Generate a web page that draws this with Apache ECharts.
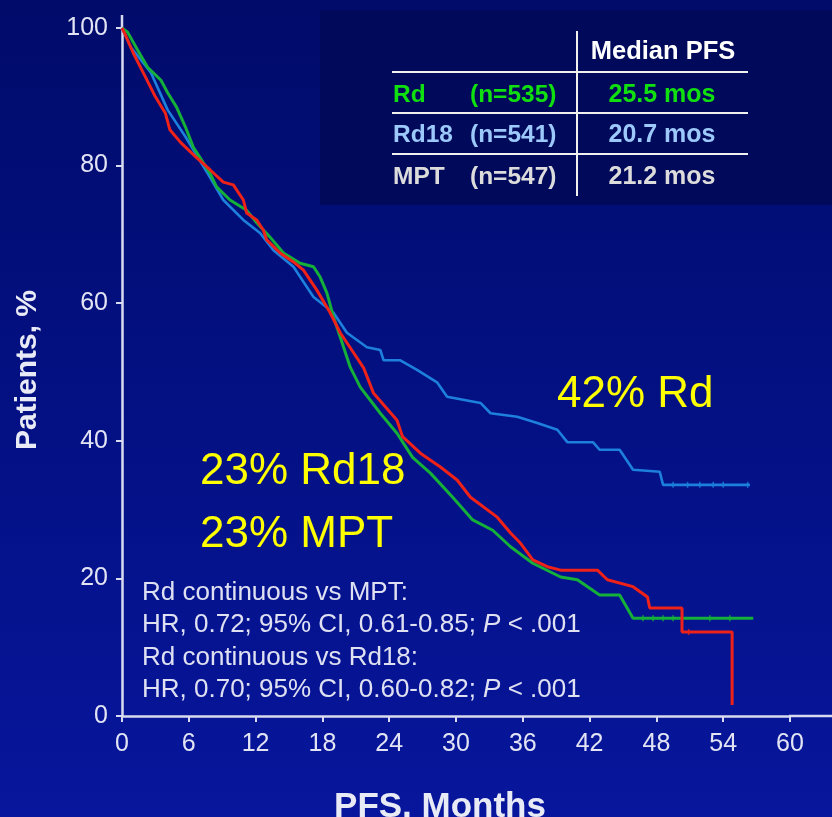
<!DOCTYPE html>
<html>
<head>
<meta charset="utf-8">
<script src="https://cdn.jsdelivr.net/npm/echarts@6/dist/echarts.min.js"></script>
<style>
html,body{margin:0;padding:0;background:#000c70;}
#chart{width:832px;height:817px;}
</style>
</head>
<body>
<div id="chart"></div>
<script>
// ---- data ----
var xTicks = [0, 6, 12, 18, 24, 30, 36, 42, 48, 54, 60];
var yTicks = [0, 20, 40, 60, 80, 100];

// Rd continuous (upper blue curve)
var rdContinuous = [[0,100],[0.8,97.2],[2.6,93.5],[4.1,88.1],[5.7,84.2],[7.9,78.3],[9.1,75.0],[10.9,72.1],[12.4,70.2],[13.6,67.7],[15.4,65.3],[17.2,60.9],[19.0,58.6],[20.2,55.7],[22.0,53.6],[23.2,53.2],[23.5,51.7],[25.0,51.7],[26.5,50.3],[28.3,48.5],[29.2,46.4],[32.2,45.5],[33.1,44.0],[35.5,43.5],[37.3,42.6],[39.1,41.6],[40.0,39.8],[42.3,39.8],[42.9,38.7],[44.7,38.7],[45.9,35.8],[48.3,35.5],[48.6,33.6],[56.4,33.6]];
// Rd18 (green curve)
var rd18 = [[0,100],[0.5,99.4],[1.4,96.8],[2.3,94.3],[3.5,92.4],[4.1,90.6],[4.9,88.5],[5.7,85.6],[6.4,82.7],[7.9,78.9],[8.5,76.9],[9.7,75.0],[11.2,73.5],[12.1,71.7],[13.3,69.6],[14.5,67.3],[16.0,65.8],[17.2,65.3],[17.8,63.8],[18.4,61.5],[19.0,58.0],[19.6,55.1],[20.5,50.7],[21.4,47.8],[23.2,44.0],[24.7,41.1],[26.1,37.6],[27.7,35.3],[29.7,31.8],[31.5,28.5],[33.3,27.0],[34.9,24.6],[36.9,22.2],[39.4,20.2],[40.9,19.8],[42.9,17.6],[44.7,17.6],[45.9,14.2],[56.7,14.2]];
// MPT (red curve)
var mpt = [[0,100],[0.3,99.0],[1.0,96.4],[2.1,92.9],[3.0,90.0],[3.9,87.6],[4.3,85.2],[5.3,83.3],[6.6,81.3],[7.9,79.4],[9.1,77.6],[10.0,77.2],[10.9,75.0],[11.2,73.1],[12.1,72.1],[12.7,70.6],[13.0,69.2],[14.2,67.3],[15.4,66.0],[16.3,64.8],[17.5,61.9],[18.7,58.6],[19.6,55.7],[20.8,52.8],[21.7,50.6],[22.6,46.9],[24.7,43.0],[25.2,40.6],[26.8,38.2],[28.6,36.2],[30.1,34.3],[31.3,31.8],[33.7,28.9],[34.9,26.6],[35.8,25.1],[36.9,22.7],[38.2,21.7],[39.4,21.2],[42.7,21.2],[43.6,19.8],[45.9,18.8],[47.2,17.3],[47.4,15.7],[50.3,15.7],[50.3,12.2],[54.8,12.2],[54.8,1.6]];

// censoring marks on the flat tails
var rdCensor = [[49.5,33.6],[50.8,33.6],[51.9,33.6],[53.1,33.6],[54.0,33.6],[56.2,33.6]];
var rd18Censor = [[46.8,14.2],[47.7,14.2],[48.6,14.2],[49.5,14.2],[52.8,14.2],[54.6,14.2]];
var mptCensor = [[50.9,12.2]];

var tableHeader = 'Median PFS';
var tableArms = ['Rd', 'Rd18', 'MPT'];
var tableN = ['(n=535)', '(n=541)', '(n=547)'];
var tableMedian = ['25.5 mos', '20.7 mos', '21.2 mos'];

var annotations = ['42% Rd', '23% Rd18', '23% MPT'];
var hrLines = ['Rd continuous vs MPT:', 'HR, 0.72; 95% CI, 0.61-0.85; {i|P} < .001', 'Rd continuous vs Rd18:', 'HR, 0.70; 95% CI, 0.60-0.82; {i|P} < .001'];

// ---- styles ----
var FONT = '"Liberation Sans", Arial, sans-serif';
var tableColors = ['#10e010', '#9cc8fa', '#dcdcdc'];
var lineColors = {rd: '#1c80dc', rd18: '#14b03a', mpt: '#ee2218'};
var AX = '#d8dbef';

var chart = echarts.init(document.getElementById('chart'));

var graphics = [];
// table box
graphics.push({type:'rect', left:320, top:10, shape:{width:512, height:195}, style:{fill:'#00095a'}, z:1});
graphics.push({type:'line', shape:{x1:577, y1:31, x2:577, y2:196}, style:{stroke:'#f0f0f0', lineWidth:2}, z:2});
[72, 113, 154].forEach(function(y){
  graphics.push({type:'line', shape:{x1:392, y1:y, x2:748, y2:y}, style:{stroke:'#f0f0f0', lineWidth:2}, z:2});
});
graphics.push({type:'text', x:663, y:52, style:{text:tableHeader, fill:'#ffffff', font:'bold 25.5px ' + FONT, textAlign:'center', textVerticalAlign:'middle'}, z:3});
var rowY = [95, 135, 177];
tableArms.forEach(function(a, i){
  var st = {fill: tableColors[i], textVerticalAlign:'middle'};
  graphics.push({type:'text', x:393, y:rowY[i], style:Object.assign({text:a, font:'bold 24.5px ' + FONT, textAlign:'left'}, st), z:3});
  graphics.push({type:'text', x:470, y:rowY[i], style:Object.assign({text:tableN[i], font:'bold 24.5px ' + FONT, textAlign:'left'}, st), z:3});
  graphics.push({type:'text', x:662, y:rowY[i], style:Object.assign({text:tableMedian[i], font:'bold 25px ' + FONT, textAlign:'center'}, st), z:3});
});
// annotations
var annPos = [[557, 395], [200, 472], [200, 535]];
annotations.forEach(function(t, i){
  graphics.push({type:'text', x:annPos[i][0], y:annPos[i][1], style:{text:t, fill:'#ffff00', font:'44px ' + FONT, textAlign:'left', textVerticalAlign:'middle'}, z:3});
});
// HR text
var hrY = [593, 625, 658, 690];
hrLines.forEach(function(t, i){
  graphics.push({type:'text', x:142, y:hrY[i], style:{text:t, fill:'#dfe1f2', font:'26px ' + FONT, textAlign:'left', textVerticalAlign:'middle',
    rich:{i:{fontStyle:'italic', fontSize:26, fontFamily:FONT, fill:'#dfe1f2'}}}, z:3});
});
// axis titles
graphics.push({type:'text', x:28, y:370, rotation:Math.PI/2, style:{text:'Patients, %', fill:'#e8eaf6', font:'bold 30px ' + FONT, textAlign:'center', textVerticalAlign:'middle'}, z:3});
graphics.push({type:'text', x:440, y:807, style:{text:'PFS, Months', fill:'#e8eaf6', font:'bold 35px ' + FONT, textAlign:'center', textVerticalAlign:'middle'}, z:3});
// axis line extensions beyond the last ticks
graphics.push({type:'line', shape:{x1:789, y1:716, x2:832, y2:716}, style:{stroke:AX, lineWidth:2.5}, z:3});
graphics.push({type:'line', shape:{x1:122, y1:15, x2:122, y2:30}, style:{stroke:AX, lineWidth:2.5}, z:3});

function lineSeries(name, data, color, w){
  return {name:name, type:'line', data:data, showSymbol:false, symbol:'none', animation:false,
    lineStyle:{color:color, width:w}, z:5};
}
function censorSeries(name, data, color){
  return {name:name, type:'scatter', data:data, symbol:'rect', symbolSize:[1.6,6], animation:false,
    itemStyle:{color:color}, z:6, silent:true};
}

chart.setOption({
  animation:false,
  backgroundColor:{type:'linear', x:0, y:0, x2:0, y2:1, colorStops:[{offset:0, color:'#000b6a'}, {offset:1, color:'#07169c'}]},
  grid:{left:122, right:42, top:28, bottom:101, containLabel:false},
  xAxis:{type:'value', min:xTicks[0], max:xTicks[xTicks.length-1], interval:6,
    axisLine:{lineStyle:{color:AX, width:2.5}},
    axisTick:{show:true, length:6, lineStyle:{color:AX, width:2}},
    axisLabel:{color:'#e2e4f4', fontSize:25, fontFamily:FONT, margin:16},
    splitLine:{show:false}},
  yAxis:{type:'value', min:yTicks[0], max:yTicks[yTicks.length-1], interval:20,
    axisLine:{show:true, lineStyle:{color:AX, width:2.5}},
    axisTick:{show:true, length:6, lineStyle:{color:AX, width:2}},
    axisLabel:{color:'#e2e4f4', fontSize:25, fontFamily:FONT, margin:14},
    splitLine:{show:false}},
  graphic:graphics,
  series:[
    lineSeries('Rd continuous', rdContinuous, lineColors.rd, 2.6),
    lineSeries('Rd18', rd18, lineColors.rd18, 3),
    lineSeries('MPT', mpt, lineColors.mpt, 3),
    censorSeries('Rd continuous censored', rdCensor, lineColors.rd),
    censorSeries('Rd18 censored', rd18Censor, lineColors.rd18),
    censorSeries('MPT censored', mptCensor, lineColors.mpt)
  ]
});
</script>
</body>
</html>
